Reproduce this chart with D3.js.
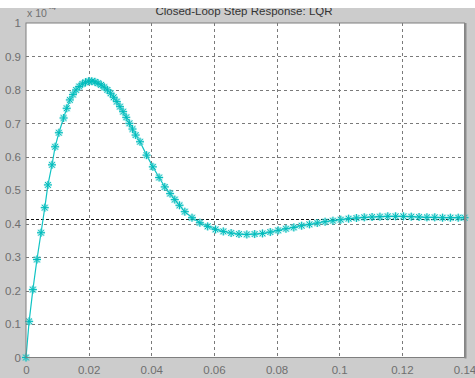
<!DOCTYPE html>
<html><head><meta charset="utf-8">
<script src="https://cdn.jsdelivr.net/npm/d3@7/dist/d3.min.js"></script>
<style>html,body{margin:0;padding:0;background:#cccccc;}svg{display:block;}</style>
</head><body>
<svg id="c" width="475" height="378"></svg>
<script>
const title = "Closed-Loop Step Response: LQR";
const xTicks = [0, 0.02, 0.04, 0.06, 0.08, 0.1, 0.12, 0.14];
const xTickLabels = ["0", "0.02", "0.04", "0.06", "0.08", "0.1", "0.12", "0.14"];
const yTicks = [0, 0.1, 0.2, 0.3, 0.4, 0.5, 0.6, 0.7, 0.8, 0.9, 1];
const yTickLabels = ["0", "0.1", "0.2", "0.3", "0.4", "0.5", "0.6", "0.7", "0.8", "0.9", "1"];
const steadyState = 0.413;
const time = [0, 0.001, 0.0022, 0.0035, 0.0048, 0.006, 0.007, 0.0083, 0.0093, 0.0105,
  0.012, 0.013, 0.014, 0.015, 0.016, 0.017, 0.018, 0.019, 0.020, 0.021,
  0.022, 0.023, 0.024, 0.025, 0.026, 0.027, 0.028, 0.029, 0.030, 0.031,
  0.032, 0.033, 0.034, 0.035, 0.0364, 0.0385, 0.0405, 0.0425, 0.0443, 0.046,
  0.0475, 0.049, 0.0507, 0.053, 0.0555, 0.058, 0.0605, 0.063, 0.0655, 0.068,
  0.0705, 0.073, 0.0755, 0.078, 0.0805, 0.083, 0.0855, 0.088, 0.0905, 0.093,
  0.0955, 0.098, 0.1005, 0.103, 0.1055, 0.108, 0.1105, 0.113, 0.1155, 0.118,
  0.1205, 0.123, 0.1255, 0.128, 0.1305, 0.133, 0.1355, 0.138, 0.14];
const response = [0, 0.108, 0.203, 0.293, 0.373, 0.448, 0.516, 0.576, 0.63, 0.672,
  0.716, 0.745, 0.77, 0.786, 0.80, 0.81, 0.818, 0.823, 0.826, 0.826,
  0.824, 0.82, 0.815, 0.808, 0.80, 0.79, 0.778, 0.765, 0.75, 0.735,
  0.718, 0.70, 0.683, 0.665, 0.645, 0.605, 0.57, 0.538, 0.51, 0.49,
  0.472, 0.455, 0.436, 0.418, 0.403, 0.392, 0.383, 0.377, 0.372, 0.369,
  0.368, 0.369, 0.371, 0.375, 0.38, 0.385, 0.389, 0.394, 0.398, 0.402,
  0.406, 0.409, 0.412, 0.415, 0.417, 0.419, 0.42, 0.421, 0.422, 0.422,
  0.422, 0.421, 0.42, 0.419, 0.419, 0.418, 0.418, 0.418, 0.418];

const svg = d3.select("#c");
const L = 26, R = 464.5, T = 23, B = 357.5;
const x = d3.scaleLinear().domain([0, 0.14]).range([L, R]);
const y = d3.scaleLinear().domain([0, 1]).range([B, T]);
const font = "'Liberation Sans', Arial, sans-serif";

svg.append("rect").attr("x", 0).attr("y", 0).attr("width", 475).attr("height", 378).attr("fill", "#cccccc");
svg.append("rect").attr("x", L).attr("y", T).attr("width", R - L).attr("height", B - T).attr("fill", "#ffffff");

// grid
const g = svg.append("g");
g.selectAll("line.vx").data(xTicks.slice(1, -1)).join("line")
  .attr("x1", d => Math.round(x(d)) + 0.5).attr("x2", d => Math.round(x(d)) + 0.5)
  .attr("y1", T).attr("y2", B)
  .attr("stroke", "#7a7a7a").attr("stroke-width", 1).attr("stroke-dasharray", "3,3");
g.selectAll("line.hy").data(yTicks.slice(1, -1)).join("line")
  .attr("x1", L).attr("x2", R)
  .attr("y1", d => Math.round(y(d)) + 0.5).attr("y2", d => Math.round(y(d)) + 0.5)
  .attr("stroke", "#7a7a7a").attr("stroke-width", 1).attr("stroke-dasharray", "3,3");

// steady-state dashed reference
svg.append("line").attr("x1", L).attr("x2", R)
  .attr("y1", Math.round(y(steadyState)) + 0.5).attr("y2", Math.round(y(steadyState)) + 0.5)
  .attr("stroke", "#111").attr("stroke-width", 1).attr("stroke-dasharray", "3,2");

// axes with d3 axes (labels only; frame drawn separately)
const xAxis = d3.axisBottom(x).tickValues(xTicks).tickFormat((d, i) => xTickLabels[i]).tickSize(0).tickPadding(8);
const yAxis = d3.axisLeft(y).tickValues(yTicks).tickFormat((d, i) => yTickLabels[i]).tickSize(0).tickPadding(5);
const gx = svg.append("g").attr("transform", `translate(0,${B})`).call(xAxis);
const gy = svg.append("g").attr("transform", `translate(${L},0)`).call(yAxis);
[gx, gy].forEach(a => {
  a.select(".domain").remove();
  a.selectAll("text").attr("font-family", font).attr("font-size", 11.5).attr("fill", "#6f6f6f");
});

// data line and markers
const data = time.map((t, i) => ({t, v: response[i]}));
svg.append("path").datum(data)
  .attr("fill", "none").attr("stroke", "#10c4c4").attr("stroke-width", 1.2)
  .attr("d", d3.line().x(d => x(d.t)).y(d => y(d.v)));
const s = 4, s2 = 2.9;
const star = `M${-s},0L${s},0M0,${-s}L0,${s}M${-s2},${-s2}L${s2},${s2}M${-s2},${s2}L${s2},${-s2}`;
const mk = svg.append("g");
mk.selectAll("path.halo").data(data).join("path")
  .attr("transform", d => `translate(${x(d.t)},${y(d.v)})`)
  .attr("d", star).attr("fill", "none").attr("stroke", "#5fd8d8").attr("stroke-opacity", 0.45).attr("stroke-width", 2.4);
mk.selectAll("path.core").data(data).join("path")
  .attr("transform", d => `translate(${x(d.t)},${y(d.v)})`)
  .attr("d", star).attr("fill", "none").attr("stroke", "#00bcbc").attr("stroke-width", 1);

// frame
svg.append("rect").attr("x", L).attr("y", T).attr("width", R - L).attr("height", B - T)
  .attr("fill", "none").attr("stroke", "#7f7f7f").attr("stroke-width", 1);
svg.append("line").attr("x1", R + 1).attr("x2", R + 1).attr("y1", T).attr("y2", B + 1)
  .attr("stroke", "#8c8c8c").attr("stroke-width", 2);

// title and exponent label
svg.append("text").attr("x", 244).attr("y", 15).attr("text-anchor", "middle")
  .attr("font-family", font).attr("font-size", 11.5).attr("fill", "#333").text(title);
const ex = svg.append("text").attr("x", 27).attr("y", 17)
  .attr("font-family", font).attr("font-size", 10.5).attr("fill", "#707070");
ex.append("tspan").text("x 10");
ex.append("tspan").attr("dy", -7).attr("dx", 2).attr("font-size", 8).text("-4");
// white strip at top clipping title
svg.append("rect").attr("x", 0).attr("y", 0).attr("width", 475).attr("height", 8).attr("fill", "#ffffff");
</script>
</body></html>
